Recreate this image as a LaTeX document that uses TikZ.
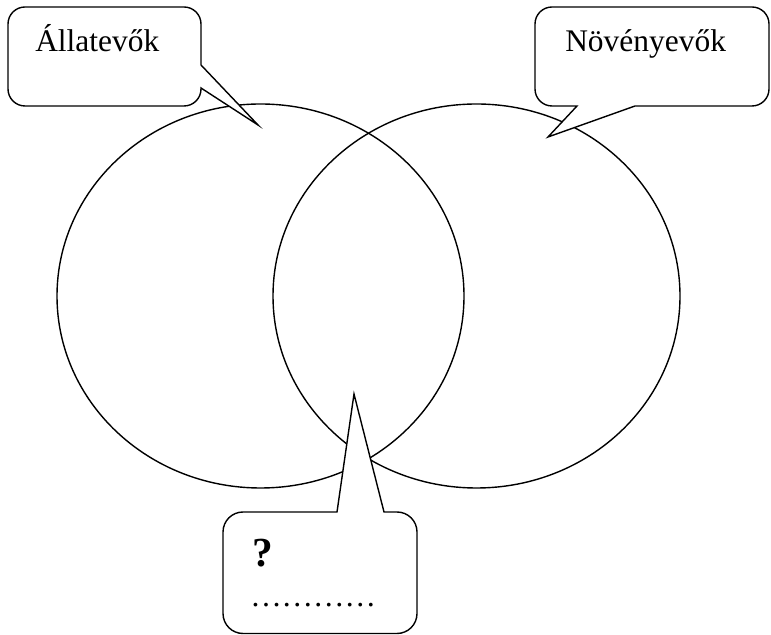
\documentclass[tikz,border=0pt]{standalone}
\usepackage{fontspec}
\setmainfont{Liberation Serif}
\begin{document}
\begin{tikzpicture}[x=0.75pt,y=0.75pt,
  outline/.style={line width=1.05pt,draw=black},
  bubble/.style={line width=1.05pt,draw=black,fill=white,line join=miter},
  lbl/.style={inner sep=0pt,anchor=base west,font=\fontsize{23.6}{28}\selectfont}]
\useasboundingbox (0,0) rectangle (771,635);
% circles
\draw[outline] (260.5,339) ellipse [x radius=203.5,y radius=192];
\draw[outline] (476.5,339) ellipse [x radius=203.5,y radius=192];
% top-left callout
\draw[bubble] (25,628) -- (184,628) arc[start angle=90,end angle=0,radius=17]
  -- (201,570) -- (258,510) -- (201,547) -- (201,546)
  arc[start angle=0,end angle=-90,radius=17] -- (25,529)
  arc[start angle=270,end angle=180,radius=17] -- (8,611)
  arc[start angle=180,end angle=90,radius=17] -- cycle;
% top-right callout
\draw[bubble] (552,628) -- (752,628) arc[start angle=90,end angle=0,radius=17]
  -- (769,546) arc[start angle=0,end angle=-90,radius=17]
  -- (635,529) -- (548,498) -- (577,529) -- (552,529)
  arc[start angle=270,end angle=180,radius=17] -- (535,611)
  arc[start angle=180,end angle=90,radius=17] -- cycle;
% bottom callout
\draw[bubble] (243,123) -- (337,123) -- (354,241) -- (384,123) -- (397,123)
  arc[start angle=90,end angle=0,radius=20] -- (417,21.5)
  arc[start angle=0,end angle=-90,radius=20] -- (243,1.5)
  arc[start angle=270,end angle=180,radius=20] -- (223,103)
  arc[start angle=180,end angle=90,radius=20] -- cycle;
% texts
\node[lbl] (allat) at (35,583) {Állatevők};
\node[lbl] (noveny) at (565,583) {Növényevők};
\node[lbl,font=\fontsize{31}{36}\selectfont\bfseries] (kerdes) at (252,68) {?};
\node[lbl] (pontok) at (250,28) {…………};
\end{tikzpicture}
\end{document}
